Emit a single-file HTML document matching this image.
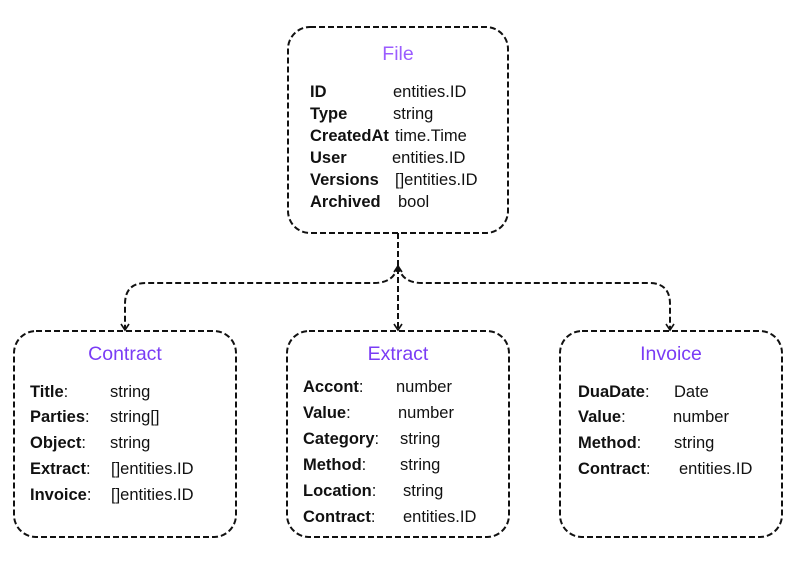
<!DOCTYPE html>
<html><head><meta charset="utf-8"><style>
html,body{margin:0;padding:0;background:#fff}
svg{display:block}
text{font-family:"Liberation Sans",sans-serif;font-size:16.5px;fill:#111}
.t{font-size:19.5px;fill:#7a3cf5;text-anchor:middle}
.b{font-weight:bold}
</style></head><body>
<svg width="801" height="568" viewBox="0 0 801 568" xmlns="http://www.w3.org/2000/svg">
<g fill="none" stroke="#111" stroke-width="2" stroke-dasharray="6,3">
<rect x="288" y="27" width="220" height="206" rx="22"/>
<rect x="14" y="331" width="222" height="206" rx="22"/>
<rect x="287" y="331" width="222" height="206" rx="22"/>
<rect x="560" y="331" width="222" height="206" rx="22"/>
<path d="M398 233 V266"/>
<path d="M398 266 Q394 283 374 283 H146 Q125 283 125 304 V329"/>
<path d="M398 266 Q402 283 422 283 H649 Q670 283 670 304 V329"/>
<path d="M398 268 V329"/>
</g>
<g fill="none" stroke="#111" stroke-width="1.6">
<path d="M121 324 L125 330 L129 324"/>
<path d="M394 324 L398 330 L402 324"/>
<path d="M666 324 L670 330 L674 324"/>
<path d="M394 272 L398 266 L402 272"/>
</g>
<text class="t" x="398" y="60" style="fill:#9b5cff">File</text>
<text class="b" x="310" y="97">ID</text><text x="393" y="97">entities.ID</text>
<text class="b" x="310" y="119">Type</text><text x="393" y="119">string</text>
<text class="b" x="310" y="141">CreatedAt</text><text x="395" y="141">time.Time</text>
<text class="b" x="310" y="163">User</text><text x="392" y="163">entities.ID</text>
<text class="b" x="310" y="185">Versions</text><text x="395" y="185">[]entities.ID</text>
<text class="b" x="310" y="207">Archived</text><text x="398" y="207">bool</text>

<text class="t" x="125" y="360">Contract</text>
<text x="30" y="397"><tspan class="b">Title</tspan>:</text><text x="110" y="397">string</text>
<text x="30" y="422"><tspan class="b">Parties</tspan>:</text><text x="110" y="422">string[]</text>
<text x="30" y="448"><tspan class="b">Object</tspan>:</text><text x="110" y="448">string</text>
<text x="30" y="474"><tspan class="b">Extract</tspan>:</text><text x="111" y="474">[]entities.ID</text>
<text x="30" y="500"><tspan class="b">Invoice</tspan>:</text><text x="111" y="500">[]entities.ID</text>

<text class="t" x="398" y="360">Extract</text>
<text x="303" y="392"><tspan class="b">Accont</tspan>:</text><text x="396" y="392">number</text>
<text x="303" y="418"><tspan class="b">Value</tspan>:</text><text x="398" y="418">number</text>
<text x="303" y="444"><tspan class="b">Category</tspan>:</text><text x="400" y="444">string</text>
<text x="303" y="470"><tspan class="b">Method</tspan>:</text><text x="400" y="470">string</text>
<text x="303" y="496"><tspan class="b">Location</tspan>:</text><text x="403" y="496">string</text>
<text x="303" y="522"><tspan class="b">Contract</tspan>:</text><text x="403" y="522">entities.ID</text>

<text class="t" x="671" y="360">Invoice</text>
<text x="578" y="397"><tspan class="b">DuaDate</tspan>:</text><text x="674" y="397">Date</text>
<text x="578" y="422"><tspan class="b">Value</tspan>:</text><text x="673" y="422">number</text>
<text x="578" y="448"><tspan class="b">Method</tspan>:</text><text x="674" y="448">string</text>
<text x="578" y="474"><tspan class="b">Contract</tspan>:</text><text x="679" y="474">entities.ID</text>
</svg>
</body></html>
